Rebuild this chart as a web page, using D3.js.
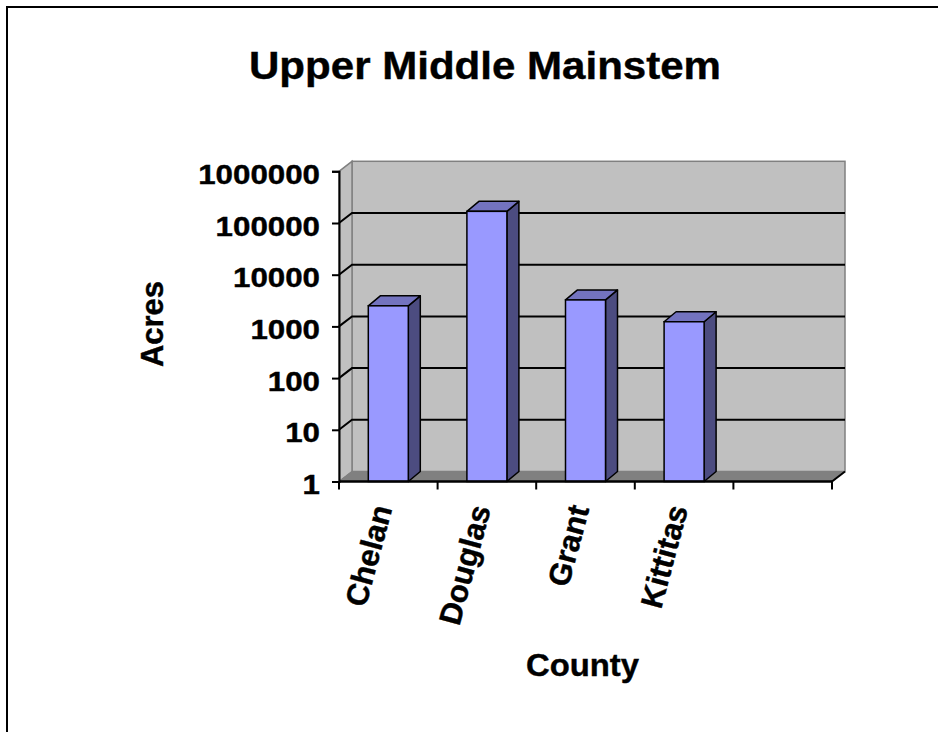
<!DOCTYPE html>
<html>
<head>
<meta charset="utf-8">
<script src="https://cdn.jsdelivr.net/npm/d3@7/dist/d3.min.js"></script>
<style>
  html, body { margin: 0; padding: 0; background: #fff; }
  svg { display: block; }
  text { font-family: "Liberation Sans", Arial, sans-serif; font-weight: bold; fill: #000; stroke: #000; stroke-width: 0.4px; }
</style>
</head>
<body>
<svg id="chart" width="949" height="732"></svg>
<script>
// ---- data ----
const title = "Upper Middle Mainstem";
const xTitle = "County";
const yTitle = "Acres";
const categories = ["Chelan", "Douglas", "Grant", "Kittitas", ""];
const acres = [2500, 168000, 3250, 1230, null];
const yTicks = [1, 10, 100, 1000, 10000, 100000, 1000000];

// ---- layout ----
const svg = d3.select("#chart");
const L = 339, R = 832, B = 481.5, T = 171.3;   // front plane
const DX = 13, DY = -10;                       // wall depth offset
const BDX = 12, BDY = -10;                     // bar depth offset
const barW = 40;

const x = d3.scaleBand().domain(categories.map((c, i) => i)).range([L, R]).paddingInner(0).paddingOuter(0);
const y = d3.scaleLog().domain([1, 1e6]).range([B, T]);

// frame
svg.append("path").attr("d", `M7,732 L7,7 L938,7`).attr("fill", "none").attr("stroke", "#000").attr("stroke-width", 2);

// back wall
svg.append("rect").attr("x", L + DX).attr("y", T + DY).attr("width", R - L).attr("height", B - T)
  .attr("fill", "#c0c0c0").attr("stroke", "#808080").attr("stroke-width", 1.5);
// side wall
svg.append("path").attr("d", `M${L},${T} L${L + DX},${T + DY} L${L + DX},${B + DY} L${L},${B} Z`)
  .attr("fill", "#c0c0c0").attr("stroke", "#808080").attr("stroke-width", 1.5);
// floor
svg.append("path").attr("d", `M${L},${B} L${L + DX},${B + DY} L${R + DX},${B + DY} L${R},${B} Z`)
  .attr("fill", "#808080").attr("stroke", "#808080").attr("stroke-width", 1);

// gridlines (back wall + side wall diagonals)
const gridVals = yTicks.filter(v => v > 1 && v < 1e6);
const g = svg.append("g");
gridVals.forEach(v => {
  const yy = y(v);
  g.append("path").attr("d", `M${L},${yy} L${L + DX},${yy + DY} L${R + DX},${yy + DY}`)
    .attr("fill", "none").attr("stroke", "#000").attr("stroke-width", 2);
});

// floor right diagonal
svg.append("line").attr("x1", R).attr("y1", B).attr("x2", R + DX).attr("y2", B + DY)
  .attr("stroke", "#000").attr("stroke-width", 2);

// bars
const bars = svg.append("g");
categories.forEach((c, i) => {
  const v = acres[i];
  if (v == null) return;
  const cx = x(i) + x.bandwidth() / 2;
  const x0 = cx - barW / 2, x1 = cx + barW / 2;
  const yt = y(v), yb = y(1);
  bars.append("path").attr("d", `M${x1},${yb} L${x1 + BDX},${yb + BDY} L${x1 + BDX},${yt + BDY} L${x1},${yt} Z`)
    .attr("fill", "#4c4c80").attr("stroke", "#000").attr("stroke-width", 1.5).attr("stroke-linejoin", "round");
  bars.append("path").attr("d", `M${x0},${yt} L${x0 + BDX},${yt + BDY} L${x1 + BDX},${yt + BDY} L${x1},${yt} Z`)
    .attr("fill", "#7373bf").attr("stroke", "#000").attr("stroke-width", 1.5).attr("stroke-linejoin", "round");
  bars.append("rect").attr("x", x0).attr("y", yt).attr("width", barW).attr("height", yb - yt)
    .attr("fill", "#9999ff").attr("stroke", "#000").attr("stroke-width", 1.5);
});

// value axis
const yAxis = d3.axisLeft(y).tickValues(yTicks).tickFormat(d3.format("d")).tickSize(7).tickPadding(12);
const ya = svg.append("g").attr("transform", `translate(${L},0)`).call(yAxis);
ya.select(".domain").attr("stroke", "#000").attr("stroke-width", 2);
ya.selectAll(".tick line").attr("stroke", "#000").attr("stroke-width", 2);
ya.selectAll(".tick text")
  .attr("font-size", 27.5).attr("font-family", "Liberation Sans, Arial, sans-serif").attr("font-weight", "bold")
  .attr("dy", "0.44em")
  .attr("textLength", d => String(d).length * 17.4)
  .attr("lengthAdjust", "spacingAndGlyphs");

// category axis
svg.append("line").attr("x1", L).attr("y1", B).attr("x2", R).attr("y2", B).attr("stroke", "#000").attr("stroke-width", 2.5);
const bounds = categories.map((c, i) => x(i)).concat([R]);
bounds.forEach(bx => {
  svg.append("line").attr("x1", bx).attr("y1", B).attr("x2", bx).attr("y2", B + 8).attr("stroke", "#000").attr("stroke-width", 2);
});
categories.forEach((c, i) => {
  if (!c) return;
  const cx = x(i) + x.bandwidth() / 2;
  svg.append("text")
    .attr("transform", `translate(${cx + 4},${B + 27}) rotate(-75)`)
    .attr("text-anchor", "end")
    .attr("font-size", 31)
    .text(c);
});

// titles
svg.append("text").attr("x", 485).attr("y", 79).attr("text-anchor", "middle")
  .attr("font-size", 38).attr("textLength", 472).attr("lengthAdjust", "spacingAndGlyphs").text(title);
svg.append("text").attr("x", 582.5).attr("y", 676).attr("text-anchor", "middle")
  .attr("font-size", 31).attr("textLength", 113).attr("lengthAdjust", "spacingAndGlyphs").text(xTitle);
svg.append("text").attr("transform", "translate(163,324) rotate(-90)").attr("text-anchor", "middle")
  .attr("font-size", 31).attr("textLength", 86).attr("lengthAdjust", "spacingAndGlyphs").text(yTitle);
</script>
</body>
</html>
